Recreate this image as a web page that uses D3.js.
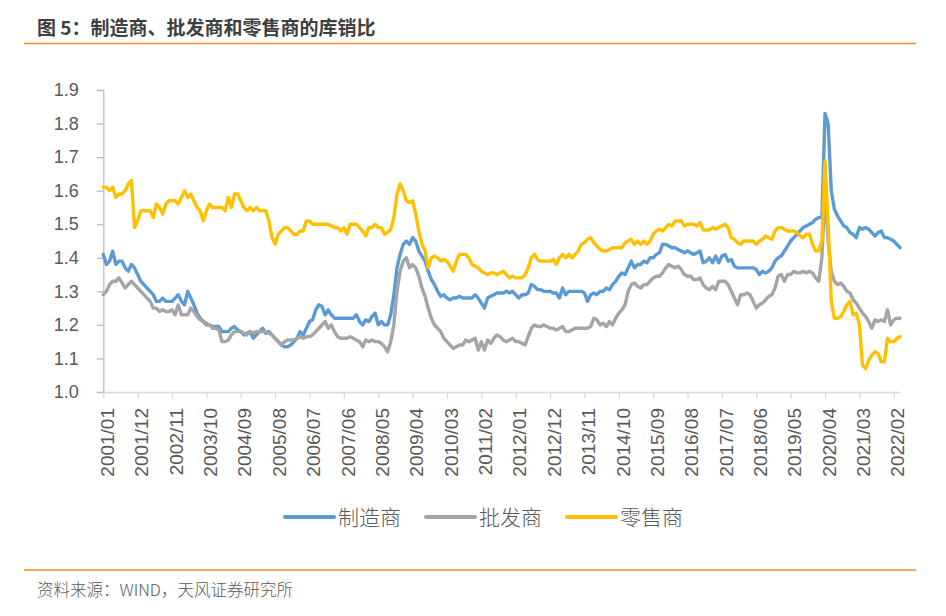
<!DOCTYPE html>
<html>
<head>
<meta charset="utf-8">
<script src="https://cdnjs.cloudflare.com/ajax/libs/d3/7.8.5/d3.min.js"></script>
<style>
  body { margin: 0; background: #fff; }
  svg { display: block; }
  text { font-family: "Liberation Sans", Arial, sans-serif; fill: #595959; }
  .cjk { font-family: "Noto Sans CJK SC", sans-serif; }
</style>
</head>
<body>
<svg id="chart" width="946" height="616"></svg>
<script>
// months 2001/01 .. 2022/04
const months = d3.timeMonth
  .range(new Date(2001, 0, 1), new Date(2022, 4, 1))
  .map(d3.timeFormat("%Y/%m"));

const tickLabels = [
  "2001/01", "2001/12", "2002/11", "2003/10", "2004/09", "2005/08",
  "2006/07", "2007/06", "2008/05", "2009/04", "2010/03", "2011/02",
  "2012/01", "2012/12", "2013/11", "2014/10", "2015/09", "2016/08",
  "2017/07", "2018/06", "2019/05", "2020/04", "2021/03", "2022/02"
];

const yTicks = [1.0, 1.1, 1.2, 1.3, 1.4, 1.5, 1.6, 1.7, 1.8, 1.9];

const seriesNames = ["制造商", "批发商", "零售商"];

// 制造商
const manufacturing = [
  1.41, 1.38, 1.39, 1.42, 1.38, 1.39, 1.39, 1.37, 1.36, 1.38, 1.37, 1.35,
  1.33, 1.32, 1.31, 1.30, 1.29, 1.27, 1.27, 1.28, 1.27, 1.27, 1.27, 1.28,
  1.29, 1.27, 1.26, 1.30, 1.28, 1.26, 1.235, 1.22, 1.21, 1.20, 1.20, 1.195,
  1.195, 1.195, 1.18, 1.18, 1.18, 1.19, 1.195, 1.185, 1.18, 1.17, 1.175, 1.18,
  1.16, 1.17, 1.18, 1.19, 1.175, 1.18, 1.17, 1.16, 1.15, 1.14, 1.135, 1.135,
  1.14, 1.15, 1.16, 1.18, 1.17, 1.19, 1.21, 1.215, 1.245, 1.26, 1.255, 1.23,
  1.245, 1.23, 1.22, 1.22, 1.22, 1.22, 1.22, 1.22, 1.22, 1.23, 1.21, 1.20,
  1.215, 1.21, 1.225, 1.235, 1.20, 1.21, 1.20, 1.20, 1.23, 1.29, 1.37, 1.41,
  1.44, 1.45, 1.44, 1.46, 1.45, 1.42, 1.405, 1.39, 1.36, 1.335, 1.32, 1.30,
  1.285, 1.29, 1.28, 1.275, 1.28, 1.28, 1.285, 1.28, 1.28, 1.28, 1.28, 1.29,
  1.28, 1.265, 1.25, 1.28, 1.285, 1.29, 1.295, 1.295, 1.295, 1.30, 1.295, 1.30,
  1.29, 1.28, 1.29, 1.29, 1.295, 1.32, 1.315, 1.305, 1.305, 1.30, 1.30, 1.30,
  1.295, 1.295, 1.28, 1.31, 1.29, 1.30, 1.30, 1.30, 1.30, 1.30, 1.295, 1.27,
  1.29, 1.295, 1.29, 1.30, 1.30, 1.31, 1.305, 1.32, 1.33, 1.345, 1.355, 1.35,
  1.37, 1.39, 1.37, 1.38, 1.38, 1.39, 1.385, 1.40, 1.40, 1.41, 1.415, 1.44,
  1.44, 1.435, 1.43, 1.43, 1.425, 1.42, 1.415, 1.42, 1.415, 1.41, 1.415, 1.42,
  1.385, 1.39, 1.40, 1.385, 1.405, 1.385, 1.405, 1.41, 1.39, 1.395, 1.375, 1.37,
  1.37, 1.37, 1.37, 1.37, 1.37, 1.365, 1.35, 1.36, 1.355, 1.36, 1.37, 1.39,
  1.40, 1.405, 1.42, 1.435, 1.45, 1.46, 1.47, 1.48, 1.49, 1.495, 1.50, 1.505,
  1.515, 1.52, 1.52, 1.83, 1.80, 1.60, 1.545, 1.525, 1.51, 1.495, 1.49, 1.475,
  1.47, 1.46, 1.49, 1.485, 1.49, 1.485, 1.475, 1.465, 1.475, 1.48, 1.46, 1.46,
  1.455, 1.45, 1.44, 1.43
];

// 批发商
const wholesale = [
  1.29, 1.30, 1.32, 1.33, 1.33, 1.34, 1.325, 1.31, 1.32, 1.33, 1.32, 1.31,
  1.30, 1.29, 1.28, 1.27, 1.25, 1.25, 1.24, 1.245, 1.24, 1.24, 1.245, 1.23,
  1.26, 1.23, 1.23, 1.23, 1.25, 1.24, 1.225, 1.215, 1.21, 1.205, 1.20, 1.19,
  1.19, 1.185, 1.15, 1.15, 1.155, 1.17, 1.18, 1.18, 1.18, 1.175, 1.17, 1.18,
  1.175, 1.18, 1.18, 1.18, 1.18, 1.175, 1.17, 1.16, 1.15, 1.14, 1.15, 1.155,
  1.155, 1.155, 1.16, 1.165, 1.16, 1.165, 1.165, 1.17, 1.18, 1.19, 1.20, 1.21,
  1.19, 1.20, 1.18, 1.165, 1.16, 1.16, 1.16, 1.165, 1.16, 1.155, 1.15, 1.135,
  1.155, 1.15, 1.155, 1.15, 1.15, 1.145, 1.135, 1.12, 1.15, 1.20, 1.30, 1.36,
  1.39, 1.40, 1.37, 1.38, 1.37, 1.345, 1.31, 1.285, 1.25, 1.22, 1.20, 1.19,
  1.18, 1.16, 1.15, 1.14, 1.13, 1.135, 1.14, 1.14, 1.155, 1.15, 1.155, 1.16,
  1.125, 1.15, 1.125, 1.155, 1.145, 1.16, 1.17, 1.165, 1.155, 1.15, 1.155, 1.16,
  1.15, 1.15, 1.145, 1.14, 1.165, 1.19, 1.20, 1.195, 1.195, 1.20, 1.195, 1.19,
  1.19, 1.185, 1.19, 1.195, 1.18, 1.18, 1.185, 1.19, 1.19, 1.19, 1.19, 1.19,
  1.195, 1.22, 1.215, 1.20, 1.205, 1.195, 1.21, 1.20, 1.22, 1.235, 1.245, 1.26,
  1.30, 1.32, 1.325, 1.315, 1.31, 1.32, 1.32, 1.33, 1.34, 1.345, 1.345, 1.355,
  1.37, 1.38, 1.375, 1.37, 1.375, 1.365, 1.35, 1.345, 1.345, 1.335, 1.335, 1.34,
  1.32, 1.31, 1.305, 1.315, 1.305, 1.33, 1.33, 1.33, 1.32, 1.30, 1.28, 1.26,
  1.29, 1.29, 1.295, 1.29, 1.27, 1.25, 1.26, 1.265, 1.275, 1.285, 1.29, 1.31,
  1.345, 1.35, 1.33, 1.35, 1.35, 1.36, 1.355, 1.355, 1.36, 1.355, 1.36, 1.355,
  1.34, 1.33, 1.40, 1.60, 1.45, 1.36, 1.33, 1.32, 1.325, 1.315, 1.30, 1.295,
  1.275, 1.265, 1.25, 1.235, 1.225, 1.21, 1.19, 1.215, 1.21, 1.215, 1.21, 1.245,
  1.20, 1.215, 1.22, 1.22
];

// 零售商
const retail = [
  1.61, 1.61, 1.60, 1.61, 1.58, 1.59, 1.59, 1.60, 1.62, 1.63, 1.49, 1.51,
  1.54, 1.54, 1.54, 1.54, 1.52, 1.56, 1.55, 1.53, 1.56, 1.57, 1.57, 1.57,
  1.56, 1.58, 1.60, 1.58, 1.59, 1.57, 1.55, 1.54, 1.51, 1.54, 1.56, 1.55,
  1.55, 1.55, 1.55, 1.54, 1.58, 1.55, 1.59, 1.59, 1.57, 1.55, 1.54, 1.55,
  1.54, 1.55, 1.54, 1.54, 1.54, 1.51, 1.46, 1.44, 1.47, 1.48, 1.49, 1.49,
  1.48, 1.47, 1.47, 1.48, 1.48, 1.51, 1.51, 1.50, 1.50, 1.50, 1.50, 1.50,
  1.50, 1.495, 1.49, 1.49, 1.48, 1.49, 1.47, 1.50, 1.50, 1.50, 1.49, 1.48,
  1.465, 1.49, 1.49, 1.50, 1.49, 1.49, 1.47, 1.475, 1.485, 1.52, 1.59, 1.62,
  1.60, 1.57, 1.565, 1.57, 1.53, 1.48, 1.44, 1.42, 1.37, 1.40, 1.405, 1.40,
  1.39, 1.395, 1.39, 1.375, 1.36, 1.39, 1.41, 1.41, 1.41, 1.40, 1.38, 1.375,
  1.37, 1.36, 1.355, 1.35, 1.355, 1.355, 1.35, 1.355, 1.36, 1.35, 1.34, 1.345,
  1.34, 1.34, 1.34, 1.35, 1.37, 1.40, 1.41, 1.395, 1.39, 1.39, 1.39, 1.39,
  1.395, 1.38, 1.40, 1.41, 1.40, 1.41, 1.40, 1.41, 1.42, 1.44, 1.445, 1.455,
  1.46, 1.445, 1.435, 1.425, 1.42, 1.42, 1.425, 1.43, 1.43, 1.43, 1.43, 1.445,
  1.45, 1.455, 1.44, 1.45, 1.44, 1.45, 1.44, 1.45, 1.47, 1.48, 1.485, 1.48,
  1.49, 1.50, 1.495, 1.51, 1.51, 1.51, 1.495, 1.50, 1.50, 1.50, 1.495, 1.505,
  1.483, 1.483, 1.483, 1.49, 1.485, 1.49, 1.495, 1.50, 1.49, 1.46, 1.455, 1.445,
  1.44, 1.45, 1.45, 1.45, 1.45, 1.44, 1.45, 1.455, 1.465, 1.46, 1.455, 1.48,
  1.49, 1.49, 1.485, 1.48, 1.48, 1.48, 1.475, 1.465, 1.46, 1.47, 1.47, 1.44,
  1.42, 1.42, 1.45, 1.69, 1.50, 1.27, 1.22, 1.22, 1.225, 1.24, 1.26, 1.27,
  1.23, 1.235, 1.20, 1.08, 1.07, 1.095, 1.11, 1.12, 1.115, 1.09, 1.09, 1.16,
  1.15, 1.15, 1.16, 1.165
];

const colors = ["#5b9bd5", "#a5a5a5", "#ffc000"];

const svg = d3.select("#chart");

svg.append("rect").attr("width", 946).attr("height", 616).attr("fill", "#fff");

// title + rules
svg.append("text")
  .attr("class", "cjk")
  .attr("x", 37).attr("y", 35)
  .style("font-size", "19px").style("font-weight", "bold")
  .style("fill", "#404040")
  .text("图 5：制造商、批发商和零售商的库销比");

svg.append("line")
  .attr("x1", 24).attr("x2", 916).attr("y1", 43.5).attr("y2", 43.5)
  .attr("stroke", "#f28a22").attr("stroke-width", 1.5);

svg.append("line")
  .attr("x1", 24).attr("x2", 916).attr("y1", 570).attr("y2", 570)
  .attr("stroke", "#f28a22").attr("stroke-width", 1.5);

svg.append("text")
  .attr("class", "cjk")
  .attr("x", 37).attr("y", 596)
  .style("font-size", "16.5px").style("font-weight", 300)
  .text("资料来源：WIND，天风证券研究所");

// scales
let x = d3.scalePoint().domain(months).range([103.3, 900]);
let y = d3.scaleLinear().domain([1.0, 1.9]).range([392, 90]);

// y axis
let yAxis = d3.axisLeft(y)
  .tickValues(yTicks)
  .tickFormat(d3.format(".1f"))
  .tickSize(6.5)
  .tickPadding(18);

let yG = svg.append("g").attr("transform", "translate(103.3,0)").call(yAxis);
yG.select(".domain").attr("stroke", "#bfbfbf").attr("stroke-width", 1.3);
yG.selectAll(".tick line").attr("stroke", "#bfbfbf").attr("stroke-width", 1.3);
yG.selectAll(".tick text")
  .style("font-size", "18px")
  .style("fill", "#595959");

// x axis
let xAxis = d3.axisBottom(x)
  .tickValues(tickLabels)
  .tickSize(6.5)
  .tickSizeOuter(0);

let xG = svg.append("g").attr("transform", "translate(0,392)").call(xAxis);
xG.select(".domain").attr("stroke", "#d9d9d9").attr("stroke-width", 1.3);
xG.selectAll(".tick line").attr("stroke", "#d9d9d9").attr("stroke-width", 1.3);
xG.selectAll(".tick text")
  .attr("transform", "translate(10.2,16) rotate(-90)")
  .attr("x", 0).attr("y", 0).attr("dy", 0)
  .attr("text-anchor", "end")
  .style("font-size", "19px")
  .style("fill", "#595959");

// lines
const series = [manufacturing, wholesale, retail];

let lineGen = d3.line()
  .x((d, i) => x(months[i]))
  .y(d => y(d));

svg.append("g")
  .selectAll("path")
  .data(series)
  .join("path")
  .attr("d", d => lineGen(d))
  .attr("fill", "none")
  .attr("stroke", (d, i) => colors[i])
  .attr("stroke-width", 3.4)
  .attr("stroke-linejoin", "round")
  .attr("stroke-linecap", "round");

// legend
const legendX = [285, 426, 567];

let legend = svg.append("g")
  .selectAll("g")
  .data(seriesNames)
  .join("g")
  .attr("transform", (d, i) => `translate(${legendX[i]},517)`);

legend.append("line")
  .attr("x1", 0).attr("x2", 49)
  .attr("stroke", (d, i) => colors[i])
  .attr("stroke-width", 4)
  .attr("stroke-linecap", "round");

legend.append("text")
  .attr("class", "cjk")
  .attr("x", 53).attr("y", 0).attr("dy", "0.36em")
  .style("font-size", "21px").style("font-weight", 300)
  .text(d => d);
</script>
</body>
</html>
